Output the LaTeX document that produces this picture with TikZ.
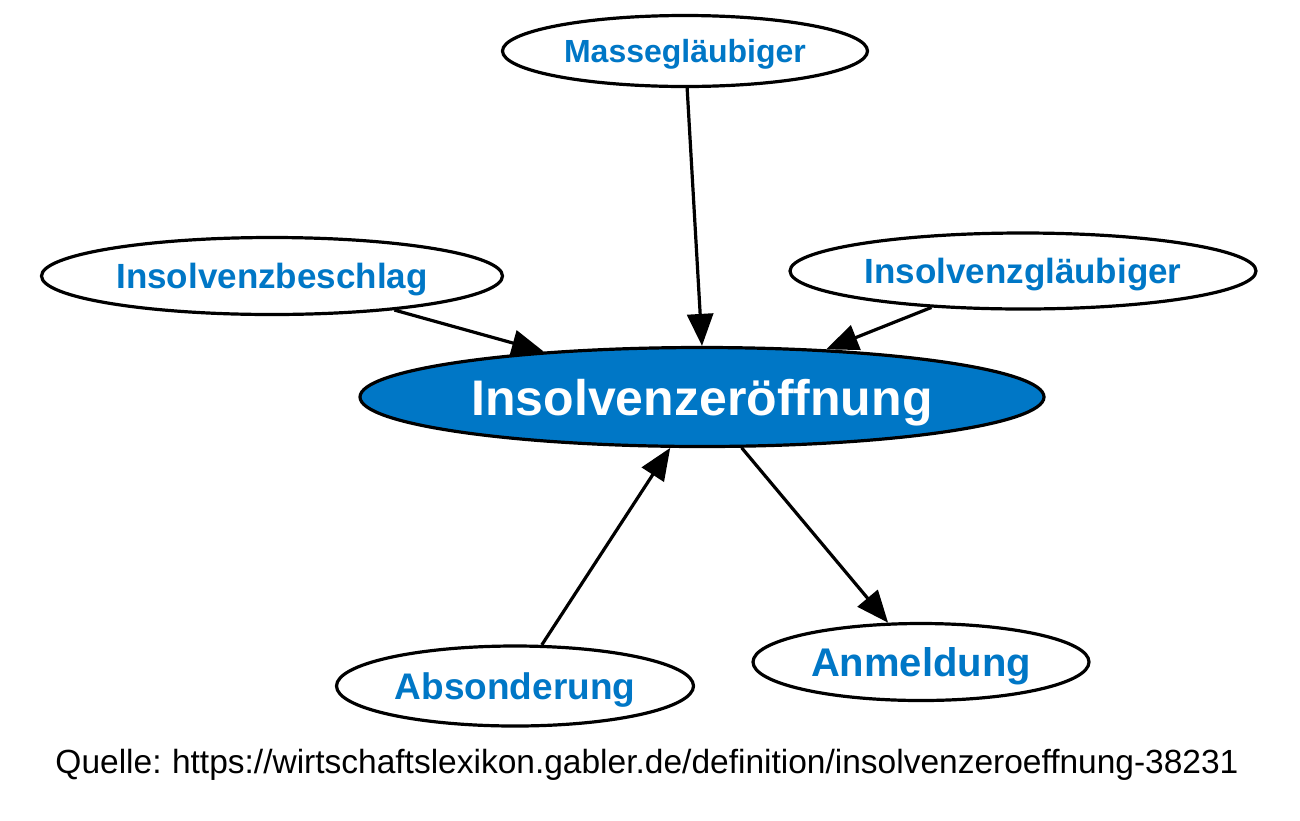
\documentclass[tikz,border=0pt]{standalone}
\usepackage{fontspec}
\setmainfont{Liberation Sans}
\usetikzlibrary{shapes.geometric,arrows.meta}
\definecolor{gblue}{HTML}{0077C6}
\tikzset{
  ell/.style={ellipse, draw=black, line width=3.2pt, inner sep=0pt, fill=white,
    text=gblue, text depth=0pt, font=\bfseries\fontsize{33}{36}\selectfont},
  mainell/.style={ell, fill=gblue, text=white, font=\bfseries\fontsize{50}{54}\selectfont},
  conn/.style={line width=3.2pt, -{Triangle[length=32pt,width=26pt]}}
}
\begin{document}
\begin{tikzpicture}[x=1pt,y=-1pt]
\useasboundingbox (0,0) rectangle (1300,820);
\node[mainell, minimum width=684pt, minimum height=99pt] (ins) at (702,397) {Insolvenzeröffnung};
\node[ell, minimum width=365pt, minimum height=71pt, font=\bfseries\fontsize{32}{36}\selectfont] (masse) at (685,51) {Massegläubiger};
\node[ell, minimum width=461pt, minimum height=77pt, font=\bfseries\fontsize{35}{38}\selectfont] (besch) at (272,276) {Insolvenzbeschlag};
\node[ell, minimum width=466pt, minimum height=76pt, font=\bfseries\fontsize{35}{38}\selectfont] (glaeub) at (1023,271) {Insolvenzgläubiger};
\node[ell, minimum width=357pt, minimum height=80pt, font=\bfseries\fontsize{37}{40}\selectfont] (abs) at (515,686) {Absonderung};
\node[ell, minimum width=336pt, minimum height=77pt, font=\bfseries\fontsize{40}{44}\selectfont] (anm) at (921,662) {Anmeldung};
\node[font=\fontsize{33.5}{36}\selectfont, inner sep=0pt] (src) at (647,765) {Quelle:\hspace{-2pt} https://wirtschaftslexikon.gabler.de/definition/insolvenzeroeffnung-38231};
\draw[conn] (masse) -- (ins.90);
\draw[conn] (besch) -- (ins.164);
\draw[conn] (glaeub) -- (ins.21);
\draw[conn] (abs) -- (ins.238);
\draw[conn] (ins.308) -- (anm);
\end{tikzpicture}
\end{document}
